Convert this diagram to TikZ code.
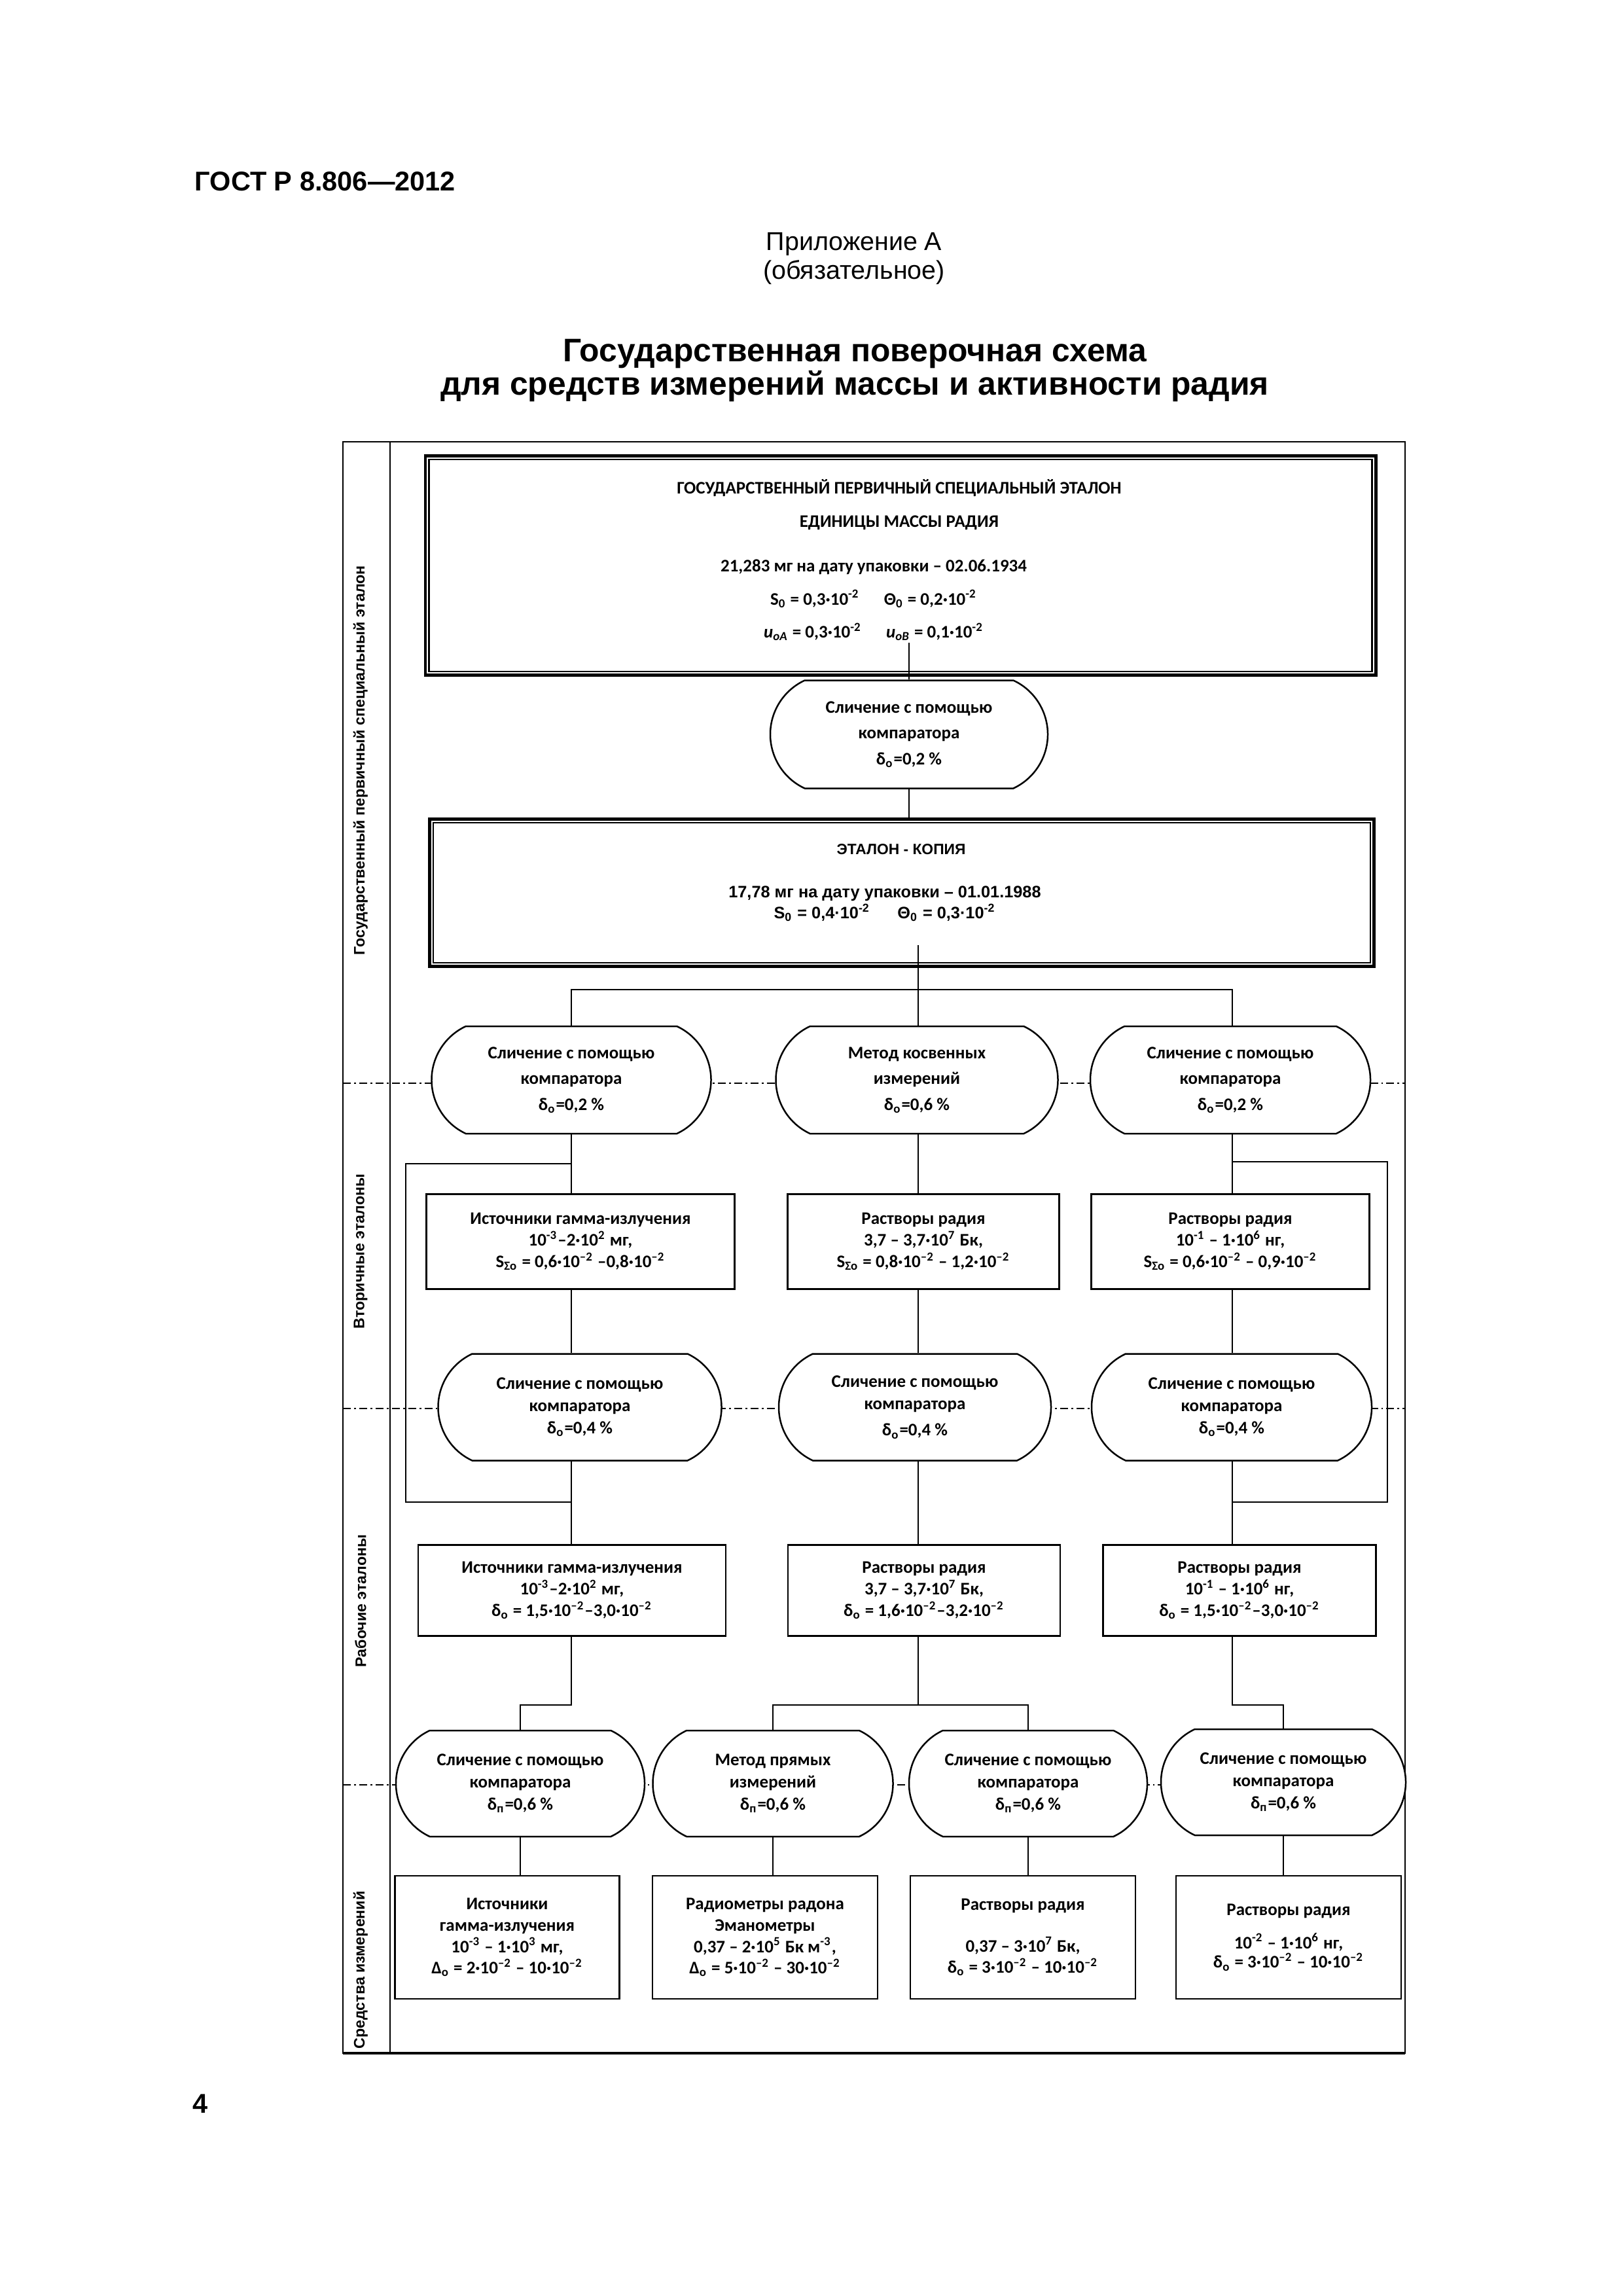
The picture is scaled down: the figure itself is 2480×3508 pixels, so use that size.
\documentclass[tikz,border=0pt]{standalone}
\usepackage{fontspec}
\setmainfont{Carlito}
\newfontfamily\arialf{Liberation Sans}
\usetikzlibrary{shapes.misc,calc}
\newlength\pu
\setlength\pu{0.084677mm}
\newcommand\sups[1]{\textsuperscript{#1}}
\newcommand\subs[1]{\textsubscript{#1}}
\begin{document}
\begin{tikzpicture}[x=\pu,y=-\pu,
  conn/.style={line width=0.45pt},
  framel/.style={line width=0.6pt},
  sz/.style 2 args={minimum width=#1\pu,minimum height=#2\pu},
  sq/.style={draw,line width=0.7pt,fill=white,inner sep=0pt,align=center,
    font=\bfseries\fontsize{6.5}{8}\selectfont},
  ov/.style={rounded rectangle,rounded rectangle arc length=130,draw,line width=0.6pt,
    fill=white,inner sep=0pt,align=center,font=\bfseries\fontsize{6.5}{9.5}\selectfont},
  ovs/.style={ov,font=\bfseries\fontsize{6.5}{8.2}\selectfont},
  dblout/.style={draw,line width=1.2pt,fill=white,inner sep=0pt},
  dblin/.style={line width=0.7pt},
  txt/.style={inner sep=0pt,align=center},
  side/.style={rotate=90,inner sep=0pt,font=\arialf\bfseries\fontsize{5.6}{7}\selectfont},
  sep/.style={line width=0.3pt,dash pattern=on 3pt off 1.2pt on 0.6pt off 1.2pt},
]
\useasboundingbox (0,0) rectangle (2480,3508);
% header
\node[txt,anchor=west,font=\arialf\bfseries\fontsize{10}{12}\selectfont] (hdr) at (297,277) {ГОСТ Р 8.806—2012};
\node[txt,font=\arialf\fontsize{9.5}{10.8}\selectfont] (app) at (1305,395) {Приложение А\\(обязательное)};
\node[txt,font=\arialf\bfseries\fontsize{12}{12.5}\selectfont] (ttl) at (1306,566) {Государственная поверочная схема\\для средств измерений массы и активности радия};
\node[txt,font=\arialf\bfseries\fontsize{10}{12}\selectfont] (pg) at (306,3214) {4};
% frame
\draw[framel] (524,675) rectangle (2147,3137);
\draw[framel] (596,675) -- (596,3137);
\draw[line width=1.1pt] (524,3137) -- (2147,3137);
% level separators
\foreach \yy in {1655,2152,2727} \draw[sep] (524,\yy) -- (2147,\yy);
% side labels
\node[side] (s1) at (551,1162) {Государственный первичный специальный эталон};
\node[side] (s2) at (551,1912) {Вторичные эталоны};
\node[side] (s3) at (551,2446) {Рабочие эталоны};
\node[side] (s4) at (551,3010) {Средства измерений};
% primary standard
\node[dblout,sz={1452}{335}] (b1) at (1376,864) {};
\draw[dblin] ([shift={(8,8)}]b1.north west) rectangle ([shift={(-8,-8)}]b1.south east);
\node[txt,font=\bfseries\fontsize{6.5}{12.5}\selectfont] (b1t) at (1374,771) {ГОСУДАРСТВЕННЫЙ ПЕРВИЧНЫЙ СПЕЦИАЛЬНЫЙ ЭТАЛОН\\ЕДИНИЦЫ МАССЫ РАДИЯ};
\node[txt,font=\bfseries\fontsize{6.5}{12.2}\selectfont] (b1d) at (1335,917) {21,283 мг на дату упаковки – 02.06.1934\\S\subs{0} = 0,3·10\sups{-2}\hspace{9pt}Θ\subs{0} = 0,2·10\sups{-2}\\\textit{u}\subs{\textit{оА}} = 0,3·10\sups{-2}\hspace{9pt}\textit{u}\subs{\textit{оВ}} = 0,1·10\sups{-2}};
% comparator 1
\node[ov,sz={424}{165}] (O1) at (1389,1122) {Сличение с помощью\\компаратора\\δ\subs{о}=0,2 \%};
% copy standard
\node[dblout,sz={1443}{225}] (cp) at (1378,1364) {};
\draw[dblin] ([shift={(8,8)}]cp.north west) rectangle ([shift={(-8,-8)}]cp.south east);
\node[txt,font=\arialf\bfseries\fontsize{5.5}{7}\selectfont] (cpt) at (1377,1298) {ЭТАЛОН - КОПИЯ};
\node[txt,font=\arialf\bfseries\fontsize{6.1}{6.3}\selectfont] (cpd) at (1352,1381) {17,78 мг на дату упаковки – 01.01.1988\\S\subs{0} = 0,4·10\sups{-2}\hspace{10pt}Θ\subs{0} = 0,3·10\sups{-2}};
% row 2
\node[ov,sz={427}{164}] (O2a) at (873,1650) {Сличение с помощью\\компаратора\\δ\subs{о}=0,2 \%};
\node[ov,sz={431}{164}] (O2b) at (1401,1650) {Метод косвенных\\измерений\\δ\subs{о}=0,6 \%};
\node[ov,sz={428}{164}] (O2c) at (1880,1650) {Сличение с помощью\\компаратора\\δ\subs{о}=0,2 \%};
% row 3: secondary standards
\node[sq,sz={471}{145}] (B3a) at (887,1897) {Источники гамма-излучения\\10\sups{-3}–2·10\sups{2} мг,\\S\subs{Σо} = 0,6·10\sups{–2} –0,8·10\sups{–2}};
\node[sq,sz={415}{145}] (B3b) at (1411,1897) {Растворы радия\\3,7 – 3,7·10\sups{7} Бк,\\S\subs{Σо} = 0,8·10\sups{–2} – 1,2·10\sups{–2}};
\node[sq,sz={425}{145}] (B3c) at (1880,1897) {Растворы радия\\10\sups{-1} – 1·10\sups{6} нг,\\S\subs{Σо} = 0,6·10\sups{–2} – 0,9·10\sups{–2}};
% row 4
\node[ovs,sz={433}{163}] (O3a) at (886,2150) {Сличение с помощью\\компаратора\\δ\subs{о}=0,4 \%};
\node[ovs,sz={416}{163}] (O3b) at (1398,2150) {Сличение с помощью\\компаратора\\[1.5pt]δ\subs{о}=0,4 \%};
\node[ovs,sz={428}{163}] (O3c) at (1882,2150) {Сличение с помощью\\компаратора\\δ\subs{о}=0,4 \%};
% row 5: working standards
\node[sq,sz={470}{139}] (B4a) at (874,2430) {Источники гамма-излучения\\10\sups{-3}–2·10\sups{2} мг,\\δ\subs{о} = 1,5·10\sups{–2}–3,0·10\sups{–2}};
\node[sq,sz={416}{139}] (B4b) at (1412,2430) {Растворы радия\\3,7 – 3,7·10\sups{7} Бк,\\δ\subs{о} = 1,6·10\sups{–2}–3,2·10\sups{–2}};
\node[sq,sz={417}{139}] (B4c) at (1894,2430) {Растворы радия\\10\sups{-1} – 1·10\sups{6} нг,\\δ\subs{о} = 1,5·10\sups{–2}–3,0·10\sups{–2}};
% row 6
\node[ovs,sz={380}{162}] (O5a) at (795,2725) {Сличение с помощью\\компаратора\\δ\subs{п}=0,6 \%};
\node[ovs,sz={367}{162}] (O5b) at (1181,2725) {Метод прямых\\измерений\\δ\subs{п}=0,6 \%};
\node[ovs,sz={364}{162}] (O5c) at (1571,2725) {Сличение с помощью\\компаратора\\δ\subs{п}=0,6 \%};
\node[ovs,sz={374}{162}] (O5d) at (1961,2723) {Сличение с помощью\\компаратора\\δ\subs{п}=0,6 \%};
% row 7: measuring instruments
\node[sq,sz={343}{188},font=\bfseries\fontsize{6.5}{7.9}\selectfont] (B6a) at (775,2960) {Источники\\гамма-излучения\\10\sups{-3} – 1·10\sups{3} мг,\\Δ\subs{о} = 2·10\sups{–2} – 10·10\sups{–2}};
\node[sq,sz={344}{188},font=\bfseries\fontsize{6.5}{7.9}\selectfont] (B6b) at (1169,2960) {Радиометры радона\\Эманометры\\0,37 – 2·10\sups{5} Бк м\sups{-3},\\Δ\subs{о} = 5·10\sups{–2} – 30·10\sups{–2}};
\node[sq,sz={344}{188},font=\bfseries\fontsize{6.5}{7.8}\selectfont] (B6c) at (1563,2960) {Растворы радия\\[7.5pt]0,37 – 3·10\sups{7} Бк,\\δ\subs{о} = 3·10\sups{–2} – 10·10\sups{–2}};
\node[sq,sz={344}{188},font=\bfseries\fontsize{6.5}{7.2}\selectfont] (B6d) at (1969,2960) {Растворы радия\\[5pt]10\sups{-2} – 1·10\sups{6} нг,\\δ\subs{о} = 3·10\sups{–2} – 10·10\sups{–2}};
% column coordinates
\coordinate (ca) at (873,0);
\coordinate (cb) at (1403,0);
\coordinate (cc) at (1883,0);
\coordinate (r2) at (0,1512);
\coordinate (r6) at (0,2605);
\coordinate (byl) at (620,2295);
\coordinate (byr) at (2120,2295);
\coordinate (bylt) at (620,1778);
\coordinate (byrt) at (2120,1775);
% connectors
\draw[conn] ($(O1.north |- b1.south)+(0,-52)$) -- (O1.north);
\draw[conn] (O1.south) -- (O1.south |- cp.north);
\draw[conn] ($(cb |- cp.south)+(0,-35)$) -- (cb |- O2b.north);
\draw[conn] (ca |- O2a.north) -- (ca |- r2) -- (cc |- r2) -- (cc |- O2c.north);
\foreach \c/\r in {ca/a,cb/b,cc/c}{
  \draw[conn] (\c |- O2\r.south) -- (\c |- B3\r.north);
  \draw[conn] (\c |- B3\r.south) -- (\c |- O3\r.north);
  \draw[conn] (\c |- O3\r.south) -- (\c |- B4\r.north);
}
\draw[conn] (ca |- bylt) -- (bylt) -- (byl) -- (ca |- byl);
\draw[conn] (cc |- byrt) -- (byrt) -- (byr) -- (cc |- byr);
\draw[conn] (ca |- B4a.south) -- (ca |- r6) -| (O5a.north);
\draw[conn] (cb |- B4b.south) -- (cb |- r6);
\draw[conn] (O5b.north) |- (O5c.north |- r6) -- (O5c.north);
\draw[conn] (cc |- B4c.south) -- (cc |- r6) -| (O5d.north);
\foreach \r in {a,b,c,d}
  \draw[conn] (O5\r.south) -- (O5\r.south |- B6\r.north);
\end{tikzpicture}
\end{document}
